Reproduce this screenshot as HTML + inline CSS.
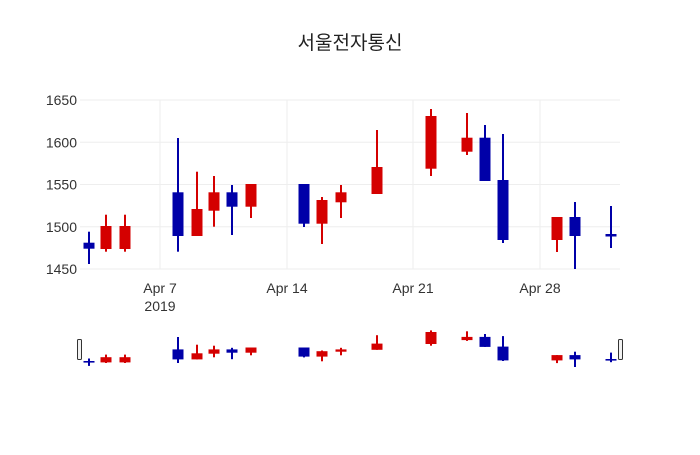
<!DOCTYPE html>
<html><head><meta charset="utf-8"><style>html,body{margin:0;padding:0;background:#fff}</style></head>
<body>
<svg width="700" height="450" xmlns="http://www.w3.org/2000/svg" font-family="'Liberation Sans','Noto Sans CJK KR',sans-serif">
<rect width="700" height="450" fill="#fff"/>
<text x="350" y="49" text-anchor="middle" font-size="19" fill="#222" font-family="'Noto Sans CJK KR','NanumGothic',sans-serif">서울전자통신</text>
<g stroke="#eee" stroke-width="1">
<line x1="80" x2="620" y1="100" y2="100"/><line x1="80" x2="620" y1="142.3" y2="142.3"/><line x1="80" x2="620" y1="184.5" y2="184.5"/><line x1="80" x2="620" y1="226.8" y2="226.8"/><line x1="80" x2="620" y1="269" y2="269"/>
<line x1="160" x2="160" y1="100" y2="269"/><line x1="287" x2="287" y1="100" y2="269"/><line x1="413" x2="413" y1="100" y2="269"/><line x1="540" x2="540" y1="100" y2="269"/>
</g>
<g font-size="14" fill="#333" text-anchor="end">
<text x="77" y="105">1650</text><text x="77" y="147.3">1600</text><text x="77" y="189.5">1550</text><text x="77" y="231.8">1500</text><text x="77" y="274">1450</text>
</g>
<g font-size="14" fill="#333" text-anchor="middle">
<text x="160" y="293">Apr 7</text><text x="160" y="311">2019</text><text x="287" y="293">Apr 14</text><text x="413" y="293">Apr 21</text><text x="540" y="293">Apr 28</text>
</g>
<g stroke-width="2">
<g stroke="#0000a8" fill="#0000a8">
<line x1="89" x2="89" y1="231.7" y2="264"/><rect x="83.5" y="242.7" width="11" height="6" stroke="none"/>
<line x1="178" x2="178" y1="138" y2="251.7"/><rect x="172.5" y="192.3" width="11" height="43.7" stroke="none"/>
<line x1="232" x2="232" y1="185" y2="235"/><rect x="226.5" y="192.3" width="11" height="14.4" stroke="none"/>
<line x1="304" x2="304" y1="184" y2="227"/><rect x="298.5" y="184" width="11" height="39.7" stroke="none"/>
<line x1="485" x2="485" y1="125" y2="181"/><rect x="479.5" y="137.7" width="11" height="43.3" stroke="none"/>
<line x1="503" x2="503" y1="134" y2="243"/><rect x="497.5" y="180" width="11" height="60" stroke="none"/>
<line x1="575" x2="575" y1="202" y2="269"/><rect x="569.5" y="217" width="11" height="19" stroke="none"/>
<line x1="611" x2="611" y1="206" y2="248"/><rect x="605.5" y="234" width="11" height="2.5" stroke="none"/>
<!-- slider -->
<line x1="89" x2="89" y1="358.5" y2="365.9"/><rect x="83.5" y="361" width="11" height="1.6" stroke="none"/>
<line x1="178" x2="178" y1="337" y2="363"/><rect x="172.5" y="349.4" width="11" height="10" stroke="none"/>
<line x1="232" x2="232" y1="347.8" y2="359.2"/><rect x="226.5" y="349.4" width="11" height="3.3" stroke="none"/>
<line x1="304" x2="304" y1="347.5" y2="357.4"/><rect x="298.5" y="347.5" width="11" height="9.1" stroke="none"/>
<line x1="485" x2="485" y1="334" y2="346.9"/><rect x="479.5" y="336.9" width="11" height="10" stroke="none"/>
<line x1="503" x2="503" y1="336.1" y2="361"/><rect x="497.5" y="346.6" width="11" height="13.8" stroke="none"/>
<line x1="575" x2="575" y1="351.7" y2="367"/><rect x="569.5" y="355.1" width="11" height="4.3" stroke="none"/>
<line x1="611" x2="611" y1="352.6" y2="362.2"/><rect x="605.5" y="359" width="11" height="1.6" stroke="none"/>
</g>
<g stroke="#d40000" fill="#d40000">
<line x1="106" x2="106" y1="214.7" y2="251.7"/><rect x="100.5" y="226" width="11" height="23" stroke="none"/>
<line x1="125" x2="125" y1="214.7" y2="251.7"/><rect x="119.5" y="226" width="11" height="23" stroke="none"/>
<line x1="197" x2="197" y1="171.7" y2="236"/><rect x="191.5" y="209" width="11" height="27" stroke="none"/>
<line x1="214" x2="214" y1="176" y2="226.7"/><rect x="208.5" y="192.3" width="11" height="18.4" stroke="none"/>
<line x1="251" x2="251" y1="184" y2="218"/><rect x="245.5" y="184" width="11" height="22.7" stroke="none"/>
<line x1="322" x2="322" y1="197" y2="244"/><rect x="316.5" y="200" width="11" height="23.7" stroke="none"/>
<line x1="341" x2="341" y1="185" y2="218"/><rect x="335.5" y="192.3" width="11" height="10" stroke="none"/>
<line x1="377" x2="377" y1="130" y2="194"/><rect x="371.5" y="167" width="11" height="27" stroke="none"/>
<line x1="431" x2="431" y1="109" y2="176"/><rect x="425.5" y="116" width="11" height="52.7" stroke="none"/>
<line x1="467" x2="467" y1="113" y2="155"/><rect x="461.5" y="137.7" width="11" height="14" stroke="none"/>
<line x1="557" x2="557" y1="217" y2="252"/><rect x="551.5" y="217" width="11" height="23" stroke="none"/>
<!-- slider -->
<line x1="106" x2="106" y1="354.6" y2="363"/><rect x="100.5" y="357.2" width="11" height="5.2" stroke="none"/>
<line x1="125" x2="125" y1="354.6" y2="363"/><rect x="119.5" y="357.2" width="11" height="5.2" stroke="none"/>
<line x1="197" x2="197" y1="344.7" y2="359.4"/><rect x="191.5" y="353.3" width="11" height="6.1" stroke="none"/>
<line x1="214" x2="214" y1="345.7" y2="357.3"/><rect x="208.5" y="349.4" width="11" height="4.3" stroke="none"/>
<line x1="251" x2="251" y1="347.5" y2="355.3"/><rect x="245.5" y="347.5" width="11" height="5.2" stroke="none"/>
<line x1="322" x2="322" y1="350.5" y2="361.3"/><rect x="316.5" y="351.2" width="11" height="5.4" stroke="none"/>
<line x1="341" x2="341" y1="347.8" y2="355.3"/><rect x="335.5" y="349.4" width="11" height="2.3" stroke="none"/>
<line x1="377" x2="377" y1="335.2" y2="349.8"/><rect x="371.5" y="343.6" width="11" height="6.2" stroke="none"/>
<line x1="431" x2="431" y1="330.4" y2="345.7"/><rect x="425.5" y="332" width="11" height="12" stroke="none"/>
<line x1="467" x2="467" y1="331.3" y2="340.9"/><rect x="461.5" y="336.9" width="11" height="3.2" stroke="none"/>
<line x1="557" x2="557" y1="355.1" y2="363.1"/><rect x="551.5" y="355.1" width="11" height="5.3" stroke="none"/>
</g>
</g>
<rect x="77.5" y="339.5" width="4" height="20" rx="1" fill="#f2f2f2" stroke="#333" stroke-width="1"/>
<rect x="618.5" y="339.5" width="4" height="20" rx="1" fill="#f2f2f2" stroke="#333" stroke-width="1"/>
</svg>
</body></html>
